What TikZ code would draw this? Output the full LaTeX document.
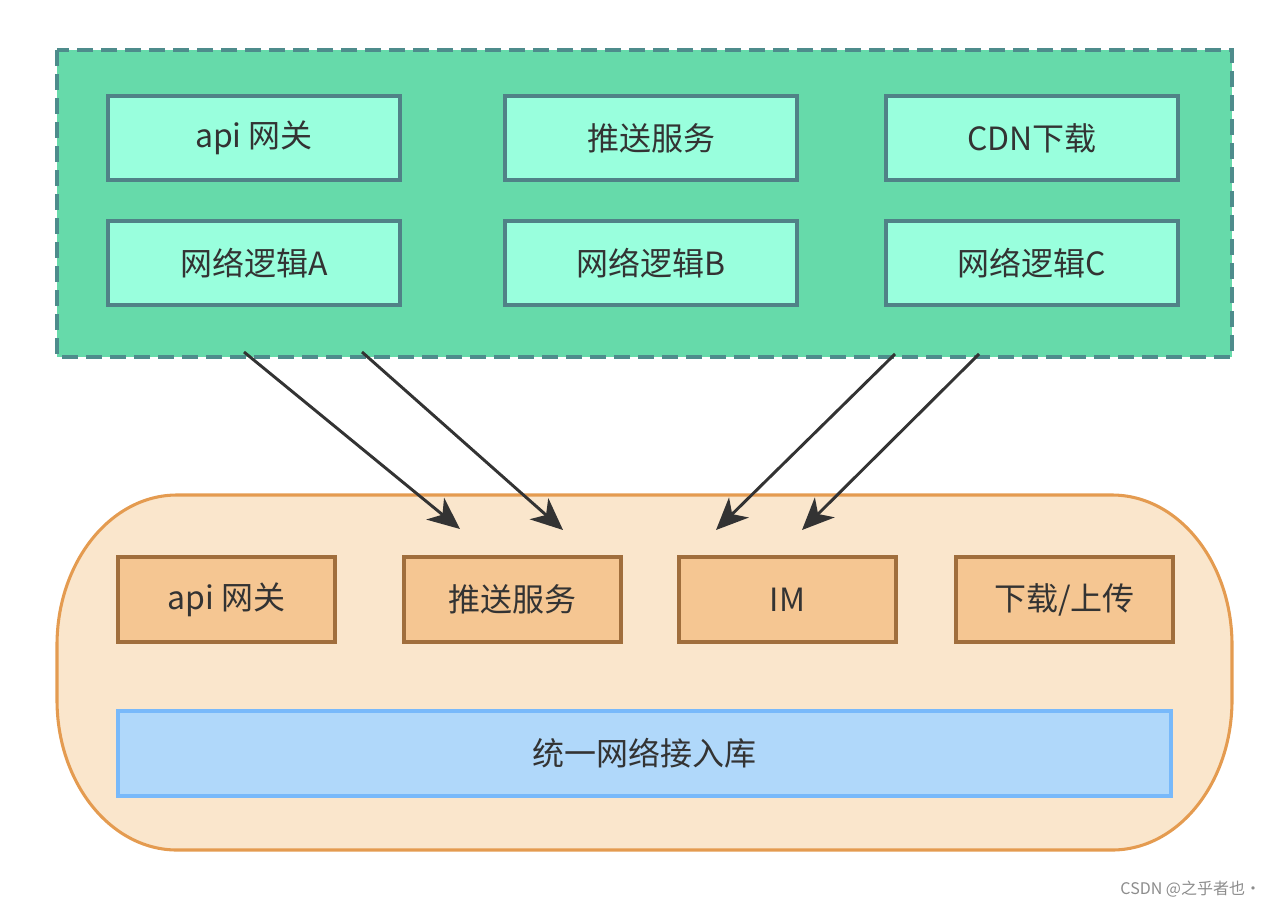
\documentclass[tikz,border=0pt]{standalone}
\usepackage{fontspec}
\setmainfont{Noto Sans CJK SC}
\usetikzlibrary{arrows.meta}

\definecolor{grpfill}{RGB}{102,218,170}
\definecolor{grpline}{RGB}{78,140,140}
\definecolor{svcfill}{RGB}{153,255,221}
\definecolor{svcline}{RGB}{80,130,135}
\definecolor{libfill}{RGB}{250,230,204}
\definecolor{libline}{RGB}{228,155,80}
\definecolor{modfill}{RGB}{245,198,146}
\definecolor{modline}{RGB}{160,110,60}
\definecolor{barfill}{RGB}{176,216,250}
\definecolor{barline}{RGB}{120,185,250}
\definecolor{txt}{RGB}{51,51,51}

\tikzset{every picture/.style={line width=0.75pt}}
\tikzset{
  svc/.style={draw=svcline, fill=svcfill, line width=2.3pt, minimum width=219pt, minimum height=63pt, text=txt, font=\fontsize{24}{28}\selectfont},
  mod/.style={draw=modline, fill=modfill, line width=2.3pt, minimum width=162.75pt, minimum height=63.75pt, text=txt, font=\fontsize{24}{28}\selectfont},
  link/.style={draw=txt, line width=2.2pt, -{Stealth[length=24pt, width=21pt, inset=7pt]}}
}

\begin{document}
\begin{tikzpicture}[x=0.75pt,y=0.75pt,yscale=-1,xscale=1]
\useasboundingbox (0,0) rectangle (1280,907);

%Group: services
\draw [draw=grpline, fill=grpfill, line width=2.5pt, dash pattern=on 12pt off 6pt] (57,50) rectangle (1232,357);
\node [svc] (api) at (254,138) {api 网关};
\node [svc] (push) at (651,138) {推送服务};
\node [svc] (cdn) at (1032,138) {CDN下载};
\node [svc] (netA) at (254,263) {网络逻辑A};
\node [svc] (netB) at (651,263) {网络逻辑B};
\node [svc] (netC) at (1032,263) {网络逻辑C};

%Rounded Rect: library
\draw [draw=libline, fill=libfill, line width=2.3pt] (57,645) .. controls (57,562.2) and (110.7,495) .. (177,495) -- (1112,495) .. controls (1178.3,495) and (1232,562.2) .. (1232,645) -- (1232,700) .. controls (1232,782.8) and (1178.3,850) .. (1112,850) -- (177,850) .. controls (110.7,850) and (57,782.8) .. (57,700) -- cycle ;
\node [mod] (libapi) at (226.5,599.5) {api 网关};
\node [mod] (libpush) at (512.5,599.5) {推送服务};
\node [mod] (libim) at (787.5,599.5) {IM};
\node [mod] (libload) at (1064.5,599.5) {下载/上传};
\node [draw=barline, fill=barfill, line width=2.3pt, minimum width=789.75pt, minimum height=63.75pt, text=txt, font=\fontsize{24}{28}\selectfont] (netlib) at (644.5,753.5) {统一网络接入库};

%Straight Lines
\coordinate (s1) at (244,352);
\coordinate (s2) at (362,352);
\coordinate (s3) at (895,354);
\coordinate (s4) at (979,354);
\coordinate (e1) at (460,529);
\coordinate (e2) at (563,530);
\coordinate (e3) at (716,530);
\coordinate (e4) at (802,530);
\draw [link] (s1) -- (e1);
\draw [link] (s2) -- (e2);
\draw [link] (s3) -- (e3);
\draw [link] (s4) -- (e4);

% Text Node
\node [anchor=east, text=black!45, font=\fontsize{12}{14}\selectfont] (mark) at (1266,889) {CSDN @之乎者也·};

\end{tikzpicture}
\end{document}
